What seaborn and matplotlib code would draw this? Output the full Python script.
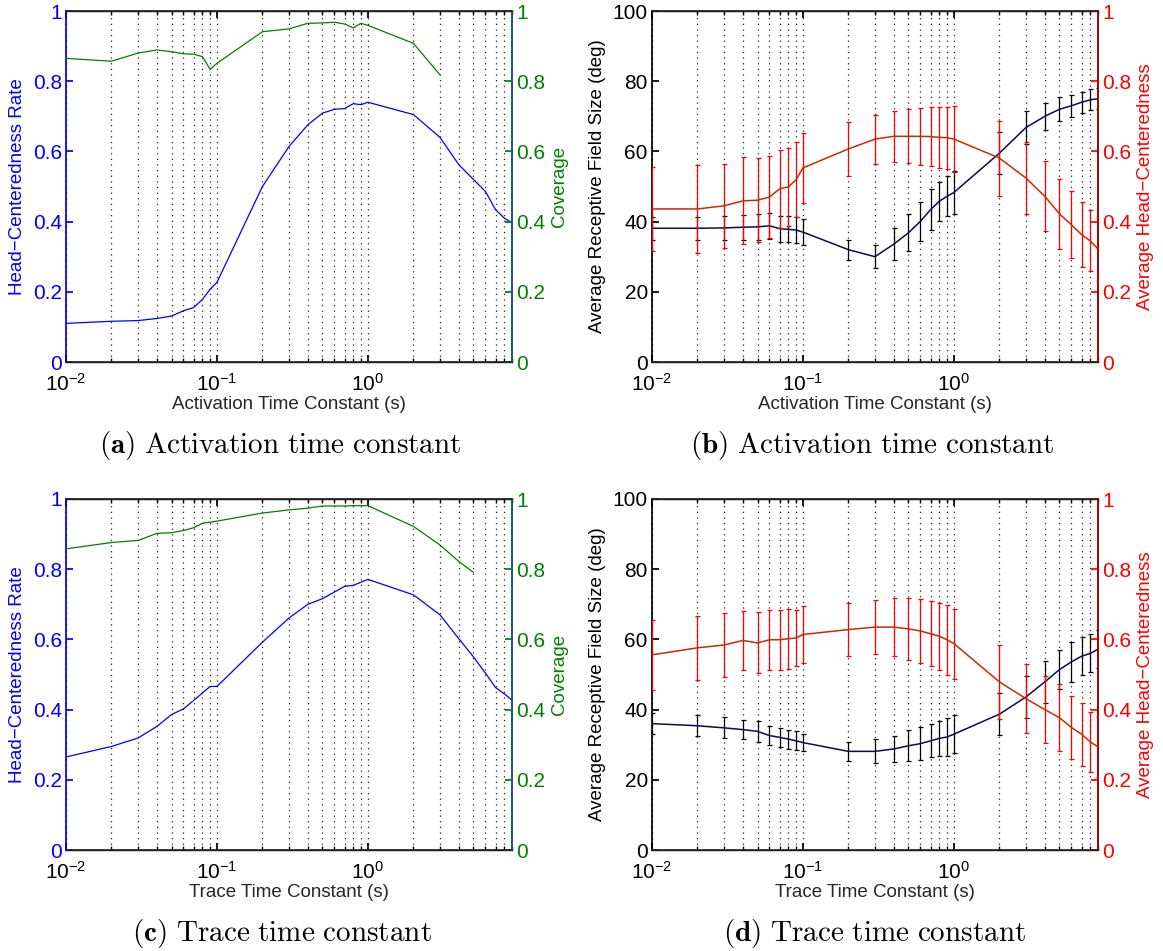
import numpy as np
import pandas as pd
import matplotlib
matplotlib.use("Agg")
import matplotlib.pyplot as plt
import seaborn as sns

# ---------------- data ----------------
X = [0.01, 0.02, 0.03, 0.04, 0.05, 0.06, 0.07, 0.08, 0.09, 0.1,
     0.2, 0.3, 0.4, 0.5, 0.6, 0.7, 0.8, 0.9, 1, 2, 3, 4, 5, 6, 7, 8, 9]

# (a) activation time constant
act_hc_rate = [0.110, 0.116, 0.118, 0.124, 0.131, 0.146, 0.155, 0.178, 0.207, 0.227,
               0.500, 0.614, 0.676, 0.709, 0.720, 0.722, 0.736, 0.733, 0.740,
               0.705, 0.640, 0.562, 0.520, 0.486, 0.434, 0.410, 0.396]
act_coverage = [0.865, 0.857, 0.880, 0.889, 0.884, 0.878, 0.877, 0.870, 0.834, 0.851,
                0.941, 0.949, 0.965, 0.966, 0.968, 0.963, 0.952, 0.965, 0.959,
                0.908, 0.818]

# (b) activation time constant
act_rf = [38.1, 38.1, 38.2, 38.4, 38.5, 38.8, 38.0, 37.8, 37.6, 37.0,
          32.0, 30.0, 33.6, 36.8, 40.1, 43.4, 45.8, 47.2, 48.3,
          59.5, 66.8, 70.0, 72.0, 73.0, 74.0, 74.7, 75.0]
act_rf_err = [3.3, 3.3, 3.3, 3.5, 3.6, 3.7, 3.7, 3.7, 3.6, 3.6,
              2.8, 3.2, 4.5, 5.3, 5.6, 5.8, 5.6, 5.7, 6.0,
              6.0, 4.7, 3.8, 3.4, 3.1, 3.0, 3.0, 3.0]
act_hc = [0.436, 0.436, 0.445, 0.459, 0.461, 0.470, 0.493, 0.499, 0.519, 0.553,
          0.607, 0.635, 0.643, 0.643, 0.643, 0.642, 0.640, 0.639, 0.635,
          0.581, 0.524, 0.472, 0.422, 0.391, 0.363, 0.345, 0.322]
act_hc_err = [0.120, 0.125, 0.120, 0.124, 0.120, 0.118, 0.110, 0.112, 0.107, 0.100,
              0.077, 0.070, 0.073, 0.077, 0.081, 0.085, 0.087, 0.088, 0.093,
              0.107, 0.103, 0.100, 0.100, 0.095, 0.092, 0.087, 0.090]

# (c) trace time constant
tr_hc_rate = [0.265, 0.295, 0.319, 0.352, 0.386, 0.402, 0.426, 0.447, 0.466, 0.466,
              0.592, 0.661, 0.700, 0.716, 0.735, 0.751, 0.754, 0.763, 0.771,
              0.727, 0.670, 0.602, 0.550, 0.504, 0.463, 0.445, 0.427]
tr_coverage = [0.858, 0.876, 0.882, 0.902, 0.904, 0.910, 0.918, 0.931, 0.934, 0.937,
               0.960, 0.969, 0.974, 0.980, 0.980, 0.980, 0.981, 0.981, 0.981,
               0.922, 0.869, 0.822, 0.791]

# (d) trace time constant
tr_rf = [36.0, 35.4, 34.8, 34.3, 33.8, 32.6, 32.1, 31.6, 31.1, 30.6,
         28.1, 28.1, 28.8, 29.7, 30.3, 31.1, 31.8, 32.2, 33.0,
         38.7, 43.6, 47.9, 51.4, 53.6, 55.2, 56.0, 57.2]
tr_rf_err = [3.0, 3.0, 3.0, 2.8, 3.0, 2.8, 2.8, 2.7, 2.7, 2.5,
             2.7, 3.4, 3.8, 4.4, 4.7, 4.7, 5.0, 5.4, 5.5,
             5.9, 6.0, 6.0, 5.5, 5.7, 5.4, 5.4, 5.4]
tr_hc = [0.556, 0.576, 0.584, 0.597, 0.590, 0.599, 0.599, 0.602, 0.604, 0.614,
         0.628, 0.635, 0.635, 0.630, 0.624, 0.616, 0.609, 0.599, 0.588,
         0.479, 0.431, 0.400, 0.377, 0.349, 0.330, 0.308, 0.294]
tr_hc_err = [0.100, 0.092, 0.090, 0.085, 0.087, 0.085, 0.086, 0.086, 0.081, 0.080,
             0.075, 0.076, 0.082, 0.088, 0.091, 0.093, 0.096, 0.099, 0.100,
             0.105, 0.098, 0.096, 0.095, 0.091, 0.090, 0.086, 0.085]

x_labels = ["Activation Time Constant (s)", "Trace Time Constant (s)"]
captions = [("a", "Activation time constant"), ("b", "Activation time constant"),
            ("c", "Trace time constant"), ("d", "Trace time constant")]

# ---------------- style ----------------
sns.set_theme(style="white")
plt.rcParams["font.family"] = ["Liberation Sans", "DejaVu Sans"]
plt.rcParams["mathtext.fontset"] = "custom"
plt.rcParams["mathtext.rm"] = "Liberation Sans"
plt.rcParams["mathtext.it"] = "Liberation Sans:italic"
plt.rcParams["mathtext.bf"] = "Liberation Sans:bold"
plt.rcParams["axes.unicode_minus"] = True

BLUE = "#0000ff"
GREEN = "#008000"
NAVY = "#0b0b4e"
REDLINE = "#cc2a00"
RED = "#ff0000"
TICKFS = 15
LABFS = 13.5

W, H = 1163, 951
fig = plt.figure(figsize=(W / 100, H / 100), dpi=100)


def px_axes(left, top, right, bottom):
    return fig.add_axes([left / W, 1 - bottom / H, (right - left) / W, (bottom - top) / H])


def style_common(ax, xlabel):
    ax.set_xscale("log")
    ax.set_xlim(0.01, 9)
    ax.xaxis.grid(True, which="both", linestyle=(0, (1, 3.5)), color="#222222", linewidth=0.9)
    ax.yaxis.grid(False)
    ax.tick_params(axis="x", which="both", direction="in", top=True, bottom=True,
                   labelsize=TICKFS, colors="black", pad=8)
    ax.tick_params(axis="x", which="major", length=5)
    ax.tick_params(axis="x", which="minor", length=3)
    for s in ["top", "bottom"]:
        ax.spines[s].set_color("black")
        ax.spines[s].set_linewidth(1.0)


def fmt(v):
    return "%g" % v


def panel_rate(ax, hc, cov, xlabel):
    style_common(ax, xlabel)
    d1 = pd.DataFrame({"x": X, "y": hc})
    sns.lineplot(data=d1, x="x", y="y", ax=ax, color=BLUE, linewidth=0.9, estimator=None)
    ax.set_ylim(0, 1)
    ax.set_yticks(np.arange(0, 1.01, 0.2))
    ax.set_yticklabels([fmt(round(v, 1)) for v in np.arange(0, 1.01, 0.2)])
    ax.tick_params(axis="y", direction="in", length=5, colors=BLUE, labelsize=TICKFS, pad=3)
    ax.spines["left"].set_color(BLUE)
    ax.set_ylabel("Head\u2212Centeredness Rate", color=BLUE, fontsize=LABFS, labelpad=5)
    ax2 = ax.twinx()
    d2 = pd.DataFrame({"x": X[:len(cov)], "y": cov})
    sns.lineplot(data=d2, x="x", y="y", ax=ax2, color=GREEN, linewidth=0.9, estimator=None)
    ax2.set_ylim(0, 1)
    ax2.set_yticks(np.arange(0, 1.01, 0.2))
    ax2.set_yticklabels([fmt(round(v, 1)) for v in np.arange(0, 1.01, 0.2)])
    ax2.tick_params(axis="y", direction="in", length=5, colors=GREEN, labelsize=TICKFS, pad=3)
    ax2.spines["right"].set_color("#1b5f7c")
    ax2.spines["right"].set_linewidth(1.3)
    ax2.spines["left"].set_visible(False)
    ax2.set_ylabel("Coverage", color=GREEN, fontsize=LABFS, labelpad=4)
    ax2.set_xlim(0.01, 9)
    ax.set_xlabel(xlabel, fontsize=LABFS, labelpad=1)


def panel_rf(ax, rf, rf_err, hc, hc_err, xlabel):
    style_common(ax, xlabel)
    ax.errorbar(X, rf, yerr=rf_err, fmt="none", ecolor="black", elinewidth=0.9,
                capsize=1.8, capthick=0.9, zorder=3)
    d1 = pd.DataFrame({"x": X, "y": rf})
    sns.lineplot(data=d1, x="x", y="y", ax=ax, color=NAVY, linewidth=1.1, estimator=None, zorder=4)
    ax.set_ylim(0, 100)
    ax.set_yticks(np.arange(0, 101, 20))
    ax.tick_params(axis="y", direction="in", length=5, colors="black", labelsize=TICKFS, pad=3)
    ax.spines["left"].set_color("black")
    ax.set_ylabel("Average Receptive Field Size (deg)", color="black", fontsize=LABFS, labelpad=5)
    ax2 = ax.twinx()
    ax2.errorbar(X, hc, yerr=hc_err, fmt="none", ecolor=RED, elinewidth=0.9,
                 capsize=1.8, capthick=0.9, zorder=3)
    d2 = pd.DataFrame({"x": X, "y": hc})
    sns.lineplot(data=d2, x="x", y="y", ax=ax2, color=REDLINE, linewidth=1.1, estimator=None, zorder=4)
    ax2.set_ylim(0, 1)
    ax2.set_yticks(np.arange(0, 1.01, 0.2))
    ax2.set_yticklabels([fmt(round(v, 1)) for v in np.arange(0, 1.01, 0.2)])
    ax2.tick_params(axis="y", direction="in", length=5, colors=RED, labelsize=TICKFS, pad=3)
    ax2.spines["right"].set_color("#b00000")
    ax2.spines["right"].set_linewidth(1.3)
    ax2.spines["left"].set_visible(False)
    ax2.set_ylabel("Average Head\u2212Centeredness", color=RED, fontsize=LABFS, labelpad=4)
    ax2.set_xlim(0.01, 9)
    ax.set_xlabel(xlabel, fontsize=LABFS, labelpad=1)


axA = px_axes(66, 11, 512, 362)
axB = px_axes(652, 11, 1098, 362)
axC = px_axes(66, 499, 512, 850)
axD = px_axes(652, 499, 1098, 850)

panel_rate(axA, act_hc_rate, act_coverage, x_labels[0])
panel_rf(axB, act_rf, act_rf_err, act_hc, act_hc_err, x_labels[0])
panel_rate(axC, tr_hc_rate, tr_coverage, x_labels[1])
panel_rf(axD, tr_rf, tr_rf_err, tr_hc, tr_hc_err, x_labels[1])

cap_pos = [(280, 445), (872, 445), (282, 933), (875, 933)]
for (letter, text), (cx, cy) in zip(captions, cap_pos):
    s = r"$\mathbf{(%s)}\ \mathrm{%s}$" % (letter, text.replace(" ", r"\ "))
    fig.text(cx / W, 1 - cy / H, s, math_fontfamily="cm", fontsize=21,
             ha="center", va="center", color="black")

fig.savefig("out.png", dpi=100)
